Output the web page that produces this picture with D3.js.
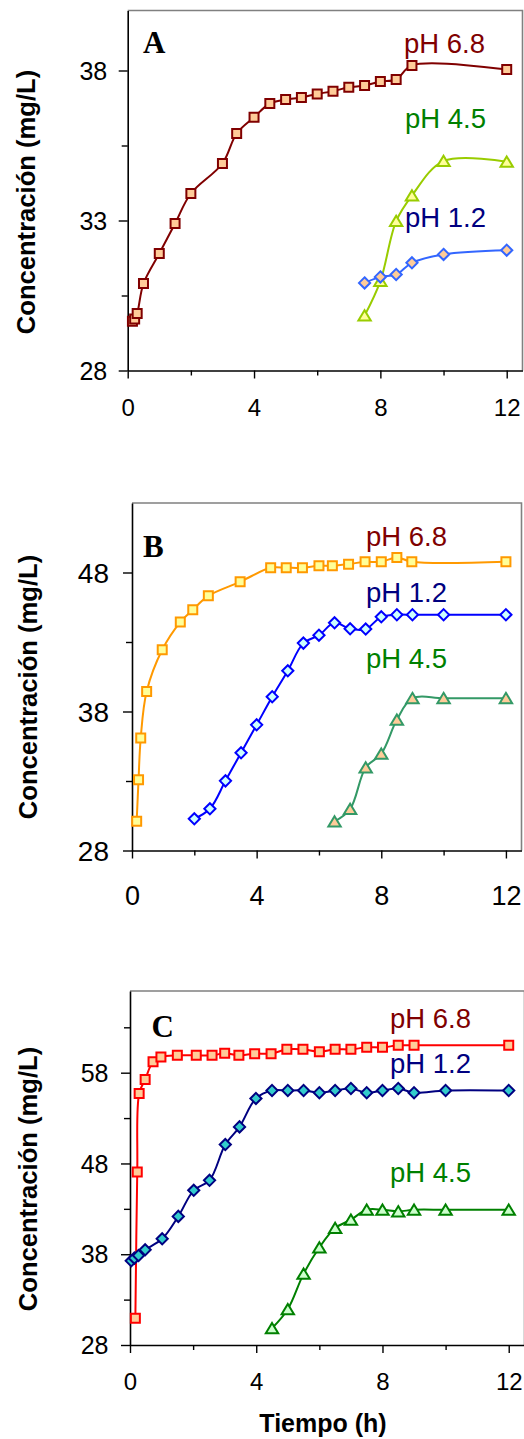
<!DOCTYPE html>
<html>
<head>
<meta charset="utf-8">
<script src="https://cdn.jsdelivr.net/npm/d3@7"></script>
<style>
  html, body { margin: 0; padding: 0; background: #fff; }
  svg { display: block; }
</style>
</head>
<body>
<svg id="chart" width="524" height="1439"></svg>
<script>
// ---------- DATA ----------
const xTickLabels = [0, 4, 8, 12];
const xMinorTicks = [2, 6, 10];

const yTicksA = [28, 33, 38];
const yMinorA = [30.5, 35.5];
const yTicksB = [28, 38, 48];
const yMinorB = [33, 43];
const yTicksC = [28, 38, 48, 58];
const yMinorC = [33, 43, 53, 63];

const seriesNames = ["pH 6.8", "pH 4.5", "pH 1.2"];
const panelNames = ["A", "B", "C"];

// Panel A
const timeA68 = [0.15, 0.22, 0.3, 0.5, 1, 1.5, 2, 3, 3.45, 4, 4.5, 5, 5.5, 6, 6.5, 7, 7.5, 8, 8.5, 9, 12];
const concA68 = [29.64, 29.72, 29.9, 30.9, 31.9, 32.9, 33.9, 34.9, 35.9, 36.44, 36.9, 37.03, 37.1, 37.22, 37.31, 37.44, 37.5, 37.63, 37.7, 38.17, 38.03];
const timeA45 = [7.5, 8, 8.5, 9, 10, 12];
const concA45 = [29.83, 30.98, 32.98, 33.83, 34.98, 34.96];
const timeA12 = [7.5, 8, 8.5, 9, 10, 12];
const concA12 = [30.92, 31.12, 31.2, 31.59, 31.87, 32.01];

// Panel B
const timeB68 = [0.15, 0.21, 0.28, 0.47, 0.97, 1.55, 1.95, 2.45, 3.47, 4.45, 4.95, 5.47, 6, 6.43, 6.95, 7.48, 8, 8.5, 8.98, 12];
const concB68 = [30.1, 33.09, 36.09, 39.44, 42.44, 44.43, 45.32, 46.32, 47.33, 48.34, 48.34, 48.34, 48.48, 48.48, 48.6, 48.77, 48.77, 49.08, 48.77, 48.77];
const timeB12 = [2, 2.5, 3, 3.5, 4, 4.5, 5, 5.5, 6, 6.5, 7, 7.5, 8, 8.5, 9, 10, 12];
const concB12 = [30.28, 31.0, 33.01, 35.03, 37.04, 39.06, 40.93, 42.92, 43.49, 44.38, 43.95, 43.93, 44.81, 44.96, 44.96, 44.96, 44.96];
const timeB45 = [6.5, 7, 7.5, 8, 8.5, 9, 10, 12];
const concB45 = [30.09, 30.98, 33.97, 34.96, 37.4, 38.96, 38.96, 38.96];

// Panel C
const timeC68 = [0.17, 0.23, 0.29, 0.48, 0.73, 0.98, 1.5, 2.1, 2.6, 3, 3.45, 3.95, 4.47, 4.97, 5.48, 6, 6.5, 7, 7.5, 8, 8.5, 9, 12];
const concC68 = [30.94, 47.07, 55.71, 57.26, 59.21, 59.73, 59.91, 59.91, 59.91, 60.13, 59.91, 60.1, 60.1, 60.57, 60.57, 60.32, 60.57, 60.57, 60.79, 60.79, 61.01, 61.01, 61.01];
const timeC12 = [0.04, 0.14, 0.27, 0.48, 1.02, 1.53, 2.02, 2.52, 3.02, 3.47, 3.99, 4.5, 5, 5.5, 6, 6.5, 7, 7.5, 8, 8.5, 9, 10, 12];
const concC12 = [37.27, 37.57, 37.86, 38.49, 39.7, 42.17, 45.04, 46.14, 50.08, 52.03, 55.16, 56.04, 56.04, 56.04, 55.79, 56.04, 56.26, 55.79, 56.04, 56.26, 55.79, 56.04, 56.04];
const timeC45 = [4.5, 5, 5.5, 6, 6.5, 7, 7.5, 8, 8.5, 9, 10, 12];
const concC45 = [29.84, 31.94, 35.84, 38.74, 40.88, 41.8, 42.9, 42.9, 42.72, 42.9, 42.9, 42.9];

// ---------- DRAW ----------
const svg = d3.select("#chart");
const SANS = "'Liberation Sans', Arial, sans-serif";
const SERIF = "'Liberation Serif', 'Times New Roman', serif";
const labelColor = { "pH 6.8": "#800000", "pH 4.5": "#008000", "pH 1.2": "#000080" };

function markerPath(shape) {
  if (shape === "square") return "M-4.5,-4.5H4.5V4.5H-4.5Z";
  if (shape === "diamond") return "M0,-5.6L5.6,0L0,5.6L-5.6,0Z";
  return "M0,-5.3L6.2,5L-6.2,5Z";
}

const panels = [
  {
    name: panelNames[0], x0: 127.7, x1: 522.5, yTop: 10.5, yBot: 370.5, yDomain: [28, 40],
    yTicks: yTicksA, yMinor: yMinorA, yFont: 25, xFont: 24, yPad: 11.5, xPad: 20,
    titleX: 35, titleY: 202, letterX: 143, letterY: 53,
    series: [
      { key: seriesNames[0], t: timeA68, v: concA68, line: "#800000", fill: "#FFCC99", shape: "square" },
      { key: seriesNames[1], t: timeA45, v: concA45, line: "#99CC00", fill: "#FFFF99", shape: "triangle" },
      { key: seriesNames[2], t: timeA12, v: concA12, line: "#3366FF", fill: "#FFCC99", shape: "diamond" }
    ],
    labels: [{ k: seriesNames[0], x: 404, y: 53 }, { k: seriesNames[1], x: 405, y: 128 }, { k: seriesNames[2], x: 405, y: 227 }]
  },
  {
    name: panelNames[1], x0: 132, x1: 521.5, yTop: 503, yBot: 850.5, yDomain: [28, 53],
    yTicks: yTicksB, yMinor: yMinorB, yFont: 28, xFont: 27, yPad: 14, xPad: 27,
    titleX: 37, titleY: 687, letterX: 143, letterY: 557,
    series: [
      { key: seriesNames[0], t: timeB68, v: concB68, line: "#FF9900", fill: "#FFFF99", shape: "square" },
      { key: seriesNames[2], t: timeB12, v: concB12, line: "#0000FF", fill: "#CCFFFF", shape: "diamond" },
      { key: seriesNames[1], t: timeB45, v: concB45, line: "#339966", fill: "#FFCC99", shape: "triangle" }
    ],
    labels: [{ k: seriesNames[0], x: 366, y: 546 }, { k: seriesNames[2], x: 366, y: 602 }, { k: seriesNames[1], x: 366, y: 668 }]
  },
  {
    name: panelNames[2], x0: 130, x1: 524.5, yTop: 991, yBot: 1345, yDomain: [28, 67],
    yTicks: yTicksC, yMinor: yMinorC, yFont: 25, xFont: 24, yPad: 12.5, xPad: 20,
    titleX: 36.5, titleY: 1179, letterX: 151.5, letterY: 1037,
    series: [
      { key: seriesNames[0], t: timeC68, v: concC68, line: "#FF0000", fill: "#FFCC99", shape: "square" },
      { key: seriesNames[2], t: timeC12, v: concC12, line: "#000080", fill: "#33CCCC", shape: "diamond" },
      { key: seriesNames[1], t: timeC45, v: concC45, line: "#008000", fill: "#CCFFCC", shape: "triangle" }
    ],
    labels: [{ k: seriesNames[0], x: 390, y: 1028 }, { k: seriesNames[2], x: 390, y: 1072.5 }, { k: seriesNames[1], x: 390, y: 1182 }]
  }
];

panels.forEach(p => {
  const x = d3.scaleLinear().domain([0, 12.5]).range([p.x0, p.x1]);
  const y = d3.scaleLinear().domain(p.yDomain).range([p.yBot, p.yTop]);
  const g = svg.append("g");

  // frame (top/right gray)
  g.append("path")
    .attr("d", `M${p.x0},${p.yTop}H${p.x1}V${p.yBot}`)
    .attr("fill", "none").attr("stroke", "#808080").attr("stroke-width", 1.6);

  // minor ticks
  g.append("g").attr("transform", `translate(${p.x0},0)`)
    .call(d3.axisLeft(y).tickValues(p.yMinor).tickSize(6).tickSizeOuter(0).tickFormat(""))
    .call(s => s.select(".domain").remove())
    .selectAll("line").attr("stroke", "#000").attr("stroke-width", 1.4);
  g.append("g").attr("transform", `translate(0,${p.yBot})`)
    .call(d3.axisBottom(x).tickValues(xMinorTicks).tickSize(5).tickSizeOuter(0).tickFormat(""))
    .call(s => s.select(".domain").remove())
    .selectAll("line").attr("stroke", "#000").attr("stroke-width", 1.4);

  // major axes
  const ya = g.append("g").attr("transform", `translate(${p.x0},0)`)
    .call(d3.axisLeft(y).tickValues(p.yTicks).tickSize(9).tickSizeOuter(0).tickPadding(p.yPad));
  const xa = g.append("g").attr("transform", `translate(0,${p.yBot})`)
    .call(d3.axisBottom(x).tickValues(xTickLabels).tickSize(8).tickSizeOuter(0).tickPadding(p.xPad));
  [ya, xa].forEach(a => {
    a.select(".domain").attr("stroke", "#000").attr("stroke-width", 1.6);
    a.selectAll("line").attr("stroke", "#000").attr("stroke-width", 1.4);
    a.selectAll("text").attr("fill", "#000").attr("font-family", SANS);
  });
  ya.selectAll("text").attr("font-size", p.yFont).attr("dy", "0.35em");
  xa.selectAll("text").attr("font-size", p.xFont);

  // y title
  g.append("text")
    .attr("transform", `translate(${p.titleX},${p.titleY}) rotate(-90)`)
    .attr("text-anchor", "middle").attr("font-family", SANS).attr("font-weight", "bold")
    .attr("font-size", 25.6).attr("fill", "#000")
    .text("Concentración (mg/L)");

  // panel letter
  g.append("text").attr("x", p.letterX).attr("y", p.letterY)
    .attr("font-family", SERIF).attr("font-weight", "bold").attr("font-size", 31).attr("fill", "#000")
    .text(p.name);

  // series
  const line = d3.line().x(d => x(d[0])).y(d => y(d[1])).curve(d3.curveCatmullRom.alpha(0.5));
  p.series.forEach(s => {
    const pts = s.t.map((t, i) => [t, s.v[i]]);
    g.append("path").attr("d", line(pts)).attr("fill", "none")
      .attr("stroke", s.line).attr("stroke-width", 2);
    g.append("g").selectAll("path").data(pts).join("path")
      .attr("transform", d => `translate(${x(d[0])},${y(d[1])})`)
      .attr("d", markerPath(s.shape))
      .attr("fill", s.fill).attr("stroke", s.line).attr("stroke-width", 2)
      .attr("stroke-linejoin", "miter");
  });

  // series labels
  p.labels.forEach(l => {
    g.append("text").attr("x", l.x).attr("y", l.y)
      .attr("font-family", SANS).attr("font-size", 27.5).attr("fill", labelColor[l.k])
      .text(l.k);
  });
});

// x title (bottom panel only)
svg.append("text").attr("x", 323).attr("y", 1432)
  .attr("text-anchor", "middle").attr("font-family", SANS).attr("font-weight", "bold")
  .attr("font-size", 25).attr("fill", "#000")
  .text("Tiempo (h)");
</script>
</body>
</html>
